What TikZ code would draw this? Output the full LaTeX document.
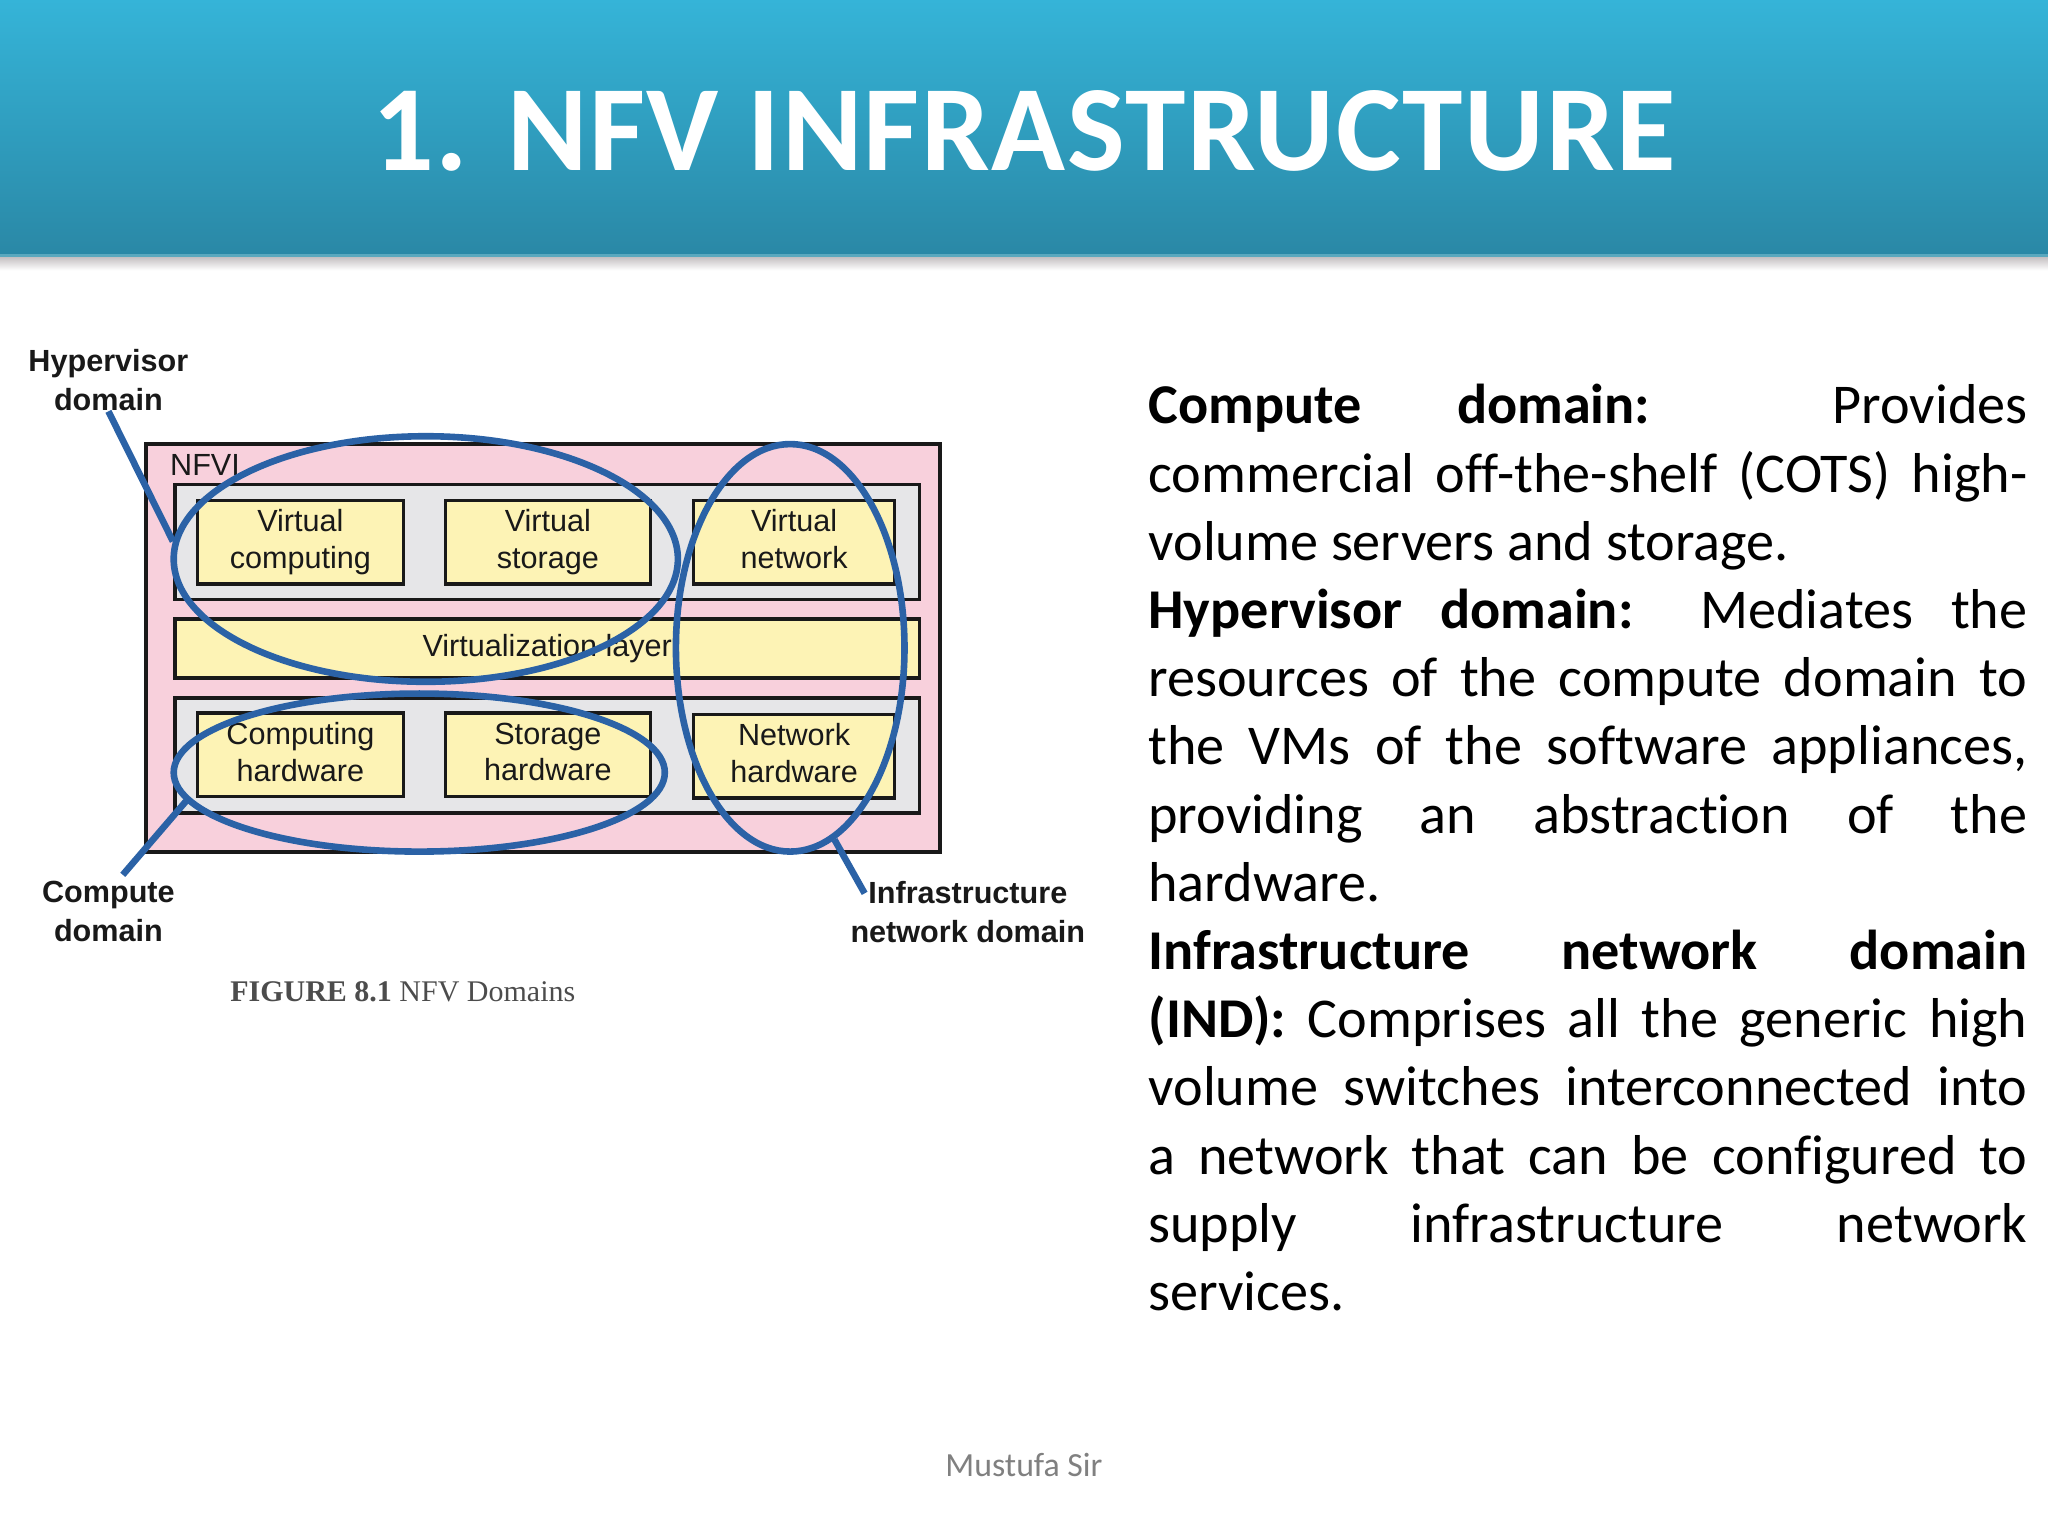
\documentclass[tikz,border=0pt]{standalone}
\usepackage{fontspec}
\setmainfont[Ligatures=NoCommon]{Carlito}
\newfontfamily\figfont{Liberation Sans}
\newfontfamily\capfont{Liberation Serif}
\usetikzlibrary{shapes.geometric}
\definecolor{bartop}{HTML}{35B4D8}
\definecolor{barlow}{HTML}{2A88A6}
\definecolor{barline}{HTML}{5AA8BE}
\definecolor{shadowgray}{HTML}{C0BBBD}
\definecolor{pinkfill}{HTML}{F8D0DC}
\definecolor{grayfill}{HTML}{E6E6E8}
\definecolor{yellowfill}{HTML}{FDF3B5}
\definecolor{domainblue}{HTML}{2B62A6}
\def\u{0.6531pt}
\tikzset{
  figtext/.style={font=\figfont\fontsize{15.3}{18.3}\selectfont,text=black!90,align=center,inner sep=0pt},
  figbold/.style={figtext,font=\figfont\bfseries\fontsize{15.3}{19.6}\selectfont},
  yellowbox/.style={draw=black!90,line width=1.7pt,fill=yellowfill,inner sep=0pt,figtext,
    minimum width=#1*\u,minimum height=64*\u},
  graybox/.style={draw=black!90,line width=1.7pt,fill=grayfill,inner sep=0pt,
    minimum width=570*\u,minimum height=88*\u},
  domainloop/.style={ellipse,draw=domainblue,line width=3.3pt,inner sep=0pt},
  domainline/.style={draw=domainblue,line width=3.3pt}
}
\begin{document}
\begin{tikzpicture}[x=\u,y=-\u]
  \useasboundingbox (0,0) rectangle (1568,1176);
  % title bar
  \shade[top color=shadowgray,bottom color=white] (0,196) rectangle (1568,207);
  \shade[top color=bartop,bottom color=barlow] (0,0) rectangle (1568,195);
  \fill[barline] (0,194.5) rectangle (1568,196.5);
  \node[text=white,inner sep=0pt,font=\bfseries\fontsize{61}{61}\selectfont\addfontfeature{LetterSpace=1.3}] (title) at (784,100) {1. NFV INFRASTRUCTURE};
  % figure
  \node[draw=black!90,line width=2pt,fill=pinkfill,minimum width=608*\u,minimum height=312*\u,inner sep=0pt] (nfvi) at (416,496) {};
  \node[figtext,anchor=west] (nfvilabel) at (130,356) {NFVI};
  \node[graybox] (upper) at (419,415) {};
  \node[graybox] (lower) at (419,578.5) {};
  \node[yellowbox=570,minimum height=45*\u] (virtlayer) at (419,496.5) {Virtualization layer};
  \foreach \cx/\cy/\bw/\nm/\txt in {230/415/158/vcompute/{Virtual\\computing},419.5/415/157/vstorage/{Virtual\\storage},608/415/154/vnetwork/{Virtual\\network},
      230/578/158/hcompute/{Computing\\hardware},419.5/578/157/hstorage/{Storage\\hardware},608/579/154/hnetwork/{Network\\hardware}}
    \node[yellowbox=\bw] (\nm) at (\cx,\cy) {\txt\vphantom{g}};
  % domains
  \node[domainloop,minimum width=386*\u,minimum height=188*\u] (hyper) at (326,428) {};
  \node[domainloop,minimum width=376*\u,minimum height=121*\u] (compute) at (321,591.5) {};
  \node[domainloop,minimum width=175*\u,minimum height=312*\u] (infra) at (605,496) {};
  \node[figbold] (hyperlabel) at (83,291) {Hypervisor\\domain};
  \node[figbold] (computelabel) at (83,698) {Compute\\domain};
  \node[figbold] (infralabel) at (741,698) {Infrastructure\\network domain};
  \coordinate (infraend) at (662,684);
  \draw[domainline] (hyperlabel.south) -- (hyper.176);
  \draw[domainline] ([yshift=3pt]computelabel.65) -- (compute.187);
  \draw[domainline] (infraend) -- (infra.283);
  \node[inner sep=0pt,text=black!70,font=\capfont\fontsize{15}{16}\selectfont,anchor=west] (caption) at (176,759) {\textbf{FIGURE 8.1} NFV Domains};
  % text column
  \node[anchor=north west,inner sep=0pt,text width=673*\u,align=justify,text=black,font=\fontsize{28.1}{34.11}\selectfont] (body) at (879,294) {%
    \spaceskip=6.4pt plus 12pt minus 1pt
    \textbf{Compute domain:} Provides\linebreak
    commercial off-the-shelf (COTS) high-\linebreak
    volume servers and storage.\\
    \textbf{Hypervisor domain:} Mediates the\linebreak
    resources of the compute domain to\linebreak
    the VMs of the software appliances,\linebreak
    providing an abstraction of the\linebreak
    hardware.\\
    \textbf{Infrastructure network domain}\linebreak
    \textbf{(IND):} Comprises all the generic high\linebreak
    volume switches interconnected into\linebreak
    a network that can be configured to\linebreak
    supply infrastructure network\linebreak
    services.};
  \node[inner sep=0pt,text=black!50,font=\fontsize{16.9}{20}\selectfont] (footer) at (784,1122) {Mustufa Sir};
\end{tikzpicture}
\end{document}
